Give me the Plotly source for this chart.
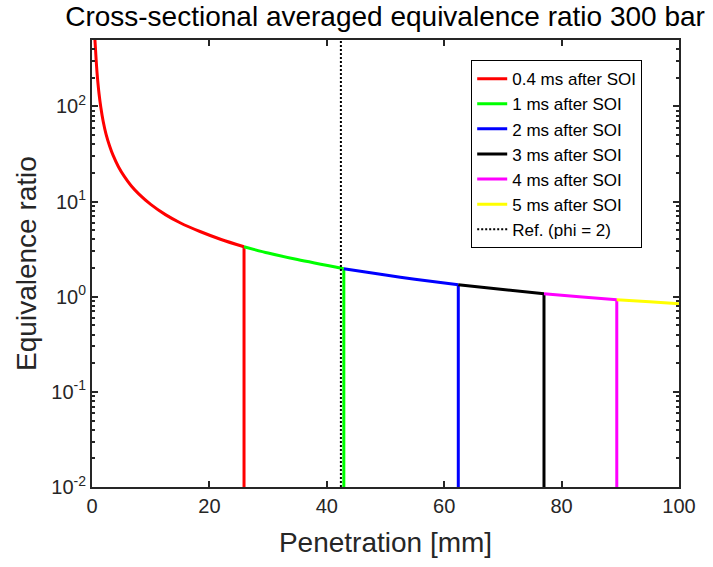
import numpy as np
import plotly.graph_objects as go

# Axial profile of the cross-sectional averaged equivalence ratio (300 bar)
penetration_mm = [0.5, 0.6, 0.7, 0.85, 1.0, 1.2, 1.5, 1.9, 2.4, 3.0, 3.6, 4.5, 5.5,
                  6.7, 8.0, 10.0, 12.5, 15.0, 18.4, 22.0, 25.9, 30.0, 35.0, 42.9,
                  50.0, 55.0, 62.4, 70.0, 77.0, 83.0, 89.4, 95.0, 100.0]
equiv_ratio = [500, 400, 313, 230, 179, 136, 98, 70, 51, 38.5, 30.6, 23.3, 18.4,
               14.6, 12.0, 9.35, 7.3, 6.0, 4.85, 4.0, 3.35, 2.88, 2.46, 1.97,
               1.69, 1.53, 1.34, 1.19, 1.075, 1.0, 0.93, 0.885, 0.845]

# Spray tip penetration at each time after start of injection (mm)
time_labels = ["0.4 ms after SOI", "1 ms after SOI", "2 ms after SOI",
               "3 ms after SOI", "4 ms after SOI", "5 ms after SOI"]
tip_penetration = [25.9, 42.9, 62.4, 77.0, 89.4, None]   # 5 ms: beyond 100 mm
colors = ["#ff0000", "#00ff00", "#0000ff", "#000000", "#ff00ff", "#ffff00"]

ref_label = "Ref. (phi = 2)"
ref_penetration = 42.4

y_lo, y_hi = 1e-2, 500.0
phi_floor = 1e-3   # value past the spray tip (off the bottom of the log axis)

fig = go.Figure()

x_arr = np.array(penetration_mm)
y_arr = np.array(equiv_ratio)
prev_tip = 0.0
for label, tip, col in zip(time_labels, tip_penetration, colors):
    end = tip if tip is not None else x_arr.max()
    sel = (x_arr >= prev_tip) & (x_arr <= end)
    fig.add_trace(go.Scatter(
        x=x_arr[sel], y=y_arr[sel], mode="lines", name=label,
        legendgroup=label, line=dict(color=col, width=3, shape="spline", smoothing=0.8),
    ))
    if tip is not None:
        tip_val = y_arr[x_arr == tip][0]
        fig.add_trace(go.Scatter(
            x=[tip, tip], y=[tip_val, phi_floor], mode="lines", showlegend=False,
            legendgroup=label, line=dict(color=col, width=3),
        ))
        prev_tip = tip

fig.add_trace(go.Scatter(
    x=[ref_penetration, ref_penetration], y=[y_lo, y_hi], mode="lines",
    name=ref_label, line=dict(color="black", width=2, dash="2px,2px"),
))

axis_col = "#262626"
font_family = "Liberation Sans, Arial, sans-serif"

major_y = [-2, -1, 0, 1, 2]
minor_y = [m * 10.0 ** d for d in range(-2, 3) for m in range(2, 10)]

fig.update_layout(
    width=713, height=567,
    margin=dict(l=92, r=34, t=40, b=80),
    paper_bgcolor="white", plot_bgcolor="white",
    font=dict(family=font_family, color=axis_col),
    title=dict(text="Cross-sectional averaged equivalence ratio 300 bar",
               x=0.54, xanchor="center", y=0.972, yanchor="middle",
               font=dict(size=28, color="black", family=font_family)),
    showlegend=True,
    legend=dict(x=0.646, y=0.955, xanchor="left", yanchor="top",
                bgcolor="white", bordercolor="black", borderwidth=1,
                font=dict(size=17, color="black"), itemwidth=30,
                tracegroupgap=0),
)

fig.update_xaxes(
    range=[0, 100], tickvals=[0, 20, 40, 60, 80, 100],
    ticks="inside", ticklen=6, tickwidth=2, tickcolor=axis_col,
    showline=True, linewidth=2, linecolor=axis_col, mirror="ticks",
    showgrid=False, zeroline=False,
    tickfont=dict(size=20, color=axis_col),
    title=dict(text="Penetration [mm]", font=dict(size=28, color=axis_col), standoff=16),
)

fig.update_yaxes(
    type="log", range=[np.log10(y_lo), np.log10(y_hi)],
    tickvals=[10.0 ** d for d in major_y],
    ticktext=[f"10<sup>{d}</sup>" for d in major_y],
    ticks="inside", ticklen=6, tickwidth=2, tickcolor=axis_col,
    minor=dict(tickvals=minor_y, ticks="inside", ticklen=3, tickwidth=2,
               tickcolor=axis_col, showgrid=False),
    showline=True, linewidth=2, linecolor=axis_col, mirror="ticks",
    showgrid=False, zeroline=False,
    tickfont=dict(size=20, color=axis_col),
    title=dict(text="Equivalence ratio", font=dict(size=28, color=axis_col), standoff=6),
)

fig.write_html("out.html")
